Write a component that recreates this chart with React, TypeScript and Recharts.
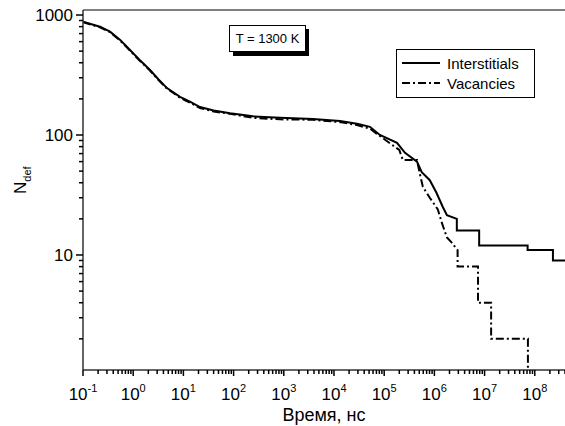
import React from "react";
import { LineChart, Line, XAxis, YAxis, ReferenceLine } from "recharts";

// time (ns) and defect counts
const interstitialTime = [
  0.1, 0.218, 0.345, 0.55, 0.863, 1.4, 2.16, 3.2, 4.71, 6.5, 8.55, 13.5, 21.4,
  40, 85, 243, 839, 3800, 13200, 28700, 52000, 82000, 1.8e5, 2.6e5, 4.5e5,
  5.6e5, 8.1e5, 1.1e6, 1.48e6, 1.78e6, 2.8e6, 2.8e6, 7.8e6, 7.8e6, 7.2e7,
  7.2e7, 2.3e8, 2.3e8, 4e8,
];
const interstitialCount = [
  880, 799, 726, 620, 511, 415, 348, 290, 246, 225, 208, 190, 171, 160, 152,
  143, 139, 136, 131, 124, 117, 100, 86, 71, 60, 49, 42, 33, 25, 21.5, 20, 16,
  16, 12, 12, 11, 11, 9, 9,
];

const vacancyTime = [
  0.1, 0.218, 0.345, 0.55, 0.863, 1.4, 2.16, 3.2, 4.71, 6.5, 8.55, 13.5, 21.4,
  40, 85, 243, 839, 3800, 13200, 28700, 52000, 82000, 2.0e5, 2.35e5, 4.5e5,
  5.1e5, 5.9e5, 8.1e5, 1.17e6, 1.41e6, 1.78e6, 2.24e6, 2.9e6, 2.9e6, 7.4e6,
  7.4e6, 1.35e7, 1.35e7, 7.3e7, 7.3e7,
];
const vacancyCount = [
  870, 790, 720, 612, 505, 410, 345, 287, 243, 222, 204, 186, 168, 157, 150,
  139, 135, 134, 128, 121, 113, 98, 75, 62, 62, 48, 37, 30, 24, 18.5, 14, 12.6,
  11, 8, 8, 4, 4, 2, 2, 1,
];

const xMajorTicks = [0.1, 1, 10, 100, 1e3, 1e4, 1e5, 1e6, 1e7, 1e8];
const yMajorTicks = [1, 10, 100, 1000];

const X_MAX = 4e8;
const Y_MIN = 1.1;
const Y_MAX = 1101;

const interstitials = interstitialTime.map((t, i) => ({ t, n: interstitialCount[i] }));
const vacancies = vacancyTime.map((t, i) => ({ t, n: vacancyCount[i] }));

const minorOf = (majors: number[], lo: number, hi: number) =>
  majors
    .flatMap((m) => [1, 2, 3, 4, 5, 6, 7, 8, 9].map((k) => m * k))
    .filter((v) => v >= lo && v <= hi);

const xTicks = minorOf(xMajorTicks, 0.1, X_MAX);
const yTicks = minorOf(yMajorTicks, Y_MIN, Y_MAX);

const FONT = "Arial, 'Liberation Sans', sans-serif";

const isPow10 = (v: number) => {
  const e = Math.round(Math.log10(v));
  return Math.abs(v - Math.pow(10, e)) < 1e-9 * v;
};

const renderXTick = (props: any) => {
  const x = Number(props.x);
  const y = Number(props.y);
  const v = Number(props.payload.value);
  const major = isPow10(v);
  const e = Math.round(Math.log10(v));
  const len = major ? 6 : 4;
  return (
    <g>
      <path d={`M${x},${y}V${y + len}`} stroke="#000" strokeWidth={1.5} fill="none" />
      {major && (
        <text x={x} y={y + 30} textAnchor="middle" fontSize={17} fontFamily={FONT} fill="#000">
          10
          <tspan dy={-8} fontSize={11}>
            {e}
          </tspan>
        </text>
      )}
    </g>
  );
};

const renderYTick = (props: any) => {
  const x = Number(props.x);
  const y = Number(props.y);
  const v = Number(props.payload.value);
  const major = isPow10(v);
  const len = major ? 7 : 4;
  return (
    <g>
      <path d={`M${x - len},${y}H${x}`} stroke="#000" strokeWidth={1.5} fill="none" />
      {major && (
        <text x={x - 10} y={y + 6} textAnchor="end" fontSize={17} fontFamily={FONT} fill="#000">
          {v}
        </text>
      )}
    </g>
  );
};

export default function App() {
  return (
    <div style={{ position: "fixed", left: 0, top: 0, width: 565, height: 426, background: "#fff" }}>
      <LineChart width={565} height={426} margin={{ top: 10, right: 0, bottom: 0, left: 8 }}>
        <XAxis
          dataKey="t"
          type="number"
          scale="log"
          domain={[0.1, X_MAX]}
          allowDataOverflow
          ticks={xTicks}
          interval={0}
          tick={renderXTick}
          tickLine={false}
          tickSize={0}
          tickMargin={0}
          height={56}
          axisLine={{ stroke: "#333", strokeWidth: 1.5 }}
        />
        <YAxis
          dataKey="n"
          type="number"
          scale="log"
          domain={[Y_MIN, Y_MAX]}
          allowDataOverflow
          ticks={yTicks}
          interval={0}
          tick={renderYTick}
          tickLine={false}
          tickSize={0}
          tickMargin={0}
          width={75}
          axisLine={{ stroke: "#333", strokeWidth: 1.5 }}
        />
        {/* top frame edge */}
        <ReferenceLine y={Y_MAX} stroke="#555" strokeWidth={1.5} ifOverflow="visible" />
        <Line
          data={interstitials}
          dataKey="n"
          type="linear"
          stroke="#000"
          strokeWidth={2}
          dot={false}
          isAnimationActive={false}
        />
        <Line
          data={vacancies}
          dataKey="n"
          type="linear"
          stroke="#000"
          strokeWidth={2}
          strokeDasharray="8 3 2 3"
          dot={false}
          isAnimationActive={false}
        />
      </LineChart>

      <svg
        width={565}
        height={426}
        style={{ position: "absolute", left: 0, top: 0, pointerEvents: "none" }}
      >
        <text x={324} y={421} textAnchor="middle" fontSize={18} fontFamily={FONT} fill="#000">
          Время, нс
        </text>
        <text
          transform="translate(26,194) rotate(-90)"
          fontSize={17}
          fontFamily={FONT}
          fill="#000"
        >
          N
          <tspan dy={5} fontSize={11}>
            def
          </tspan>
        </text>

        {/* T = 1300 K box with shadow */}
        <rect x={233} y={29} width={76} height={27} fill="#000" />
        <rect x={229.5} y={25.5} width={76} height={26} fill="#fff" stroke="#000" strokeWidth={1} />
        <text x={267.5} y={43} textAnchor="middle" fontSize={13} fontFamily={FONT} fill="#000">
          T = 1300 K
        </text>

        {/* legend */}
        <rect x={396.5} y={49.5} width={138} height={48} fill="#fff" stroke="#000" strokeWidth={1} />
        <line x1={402} x2={440} y1={63} y2={63} stroke="#000" strokeWidth={2} />
        <line x1={402} x2={440} y1={83} y2={83} stroke="#000" strokeWidth={2} strokeDasharray="8 3 2 3" />
        <text x={447} y={69} fontSize={15} fontFamily={FONT} fill="#000">
          Interstitials
        </text>
        <text x={447} y={89} fontSize={15} fontFamily={FONT} fill="#000">
          Vacancies
        </text>
      </svg>
    </div>
  );
}
